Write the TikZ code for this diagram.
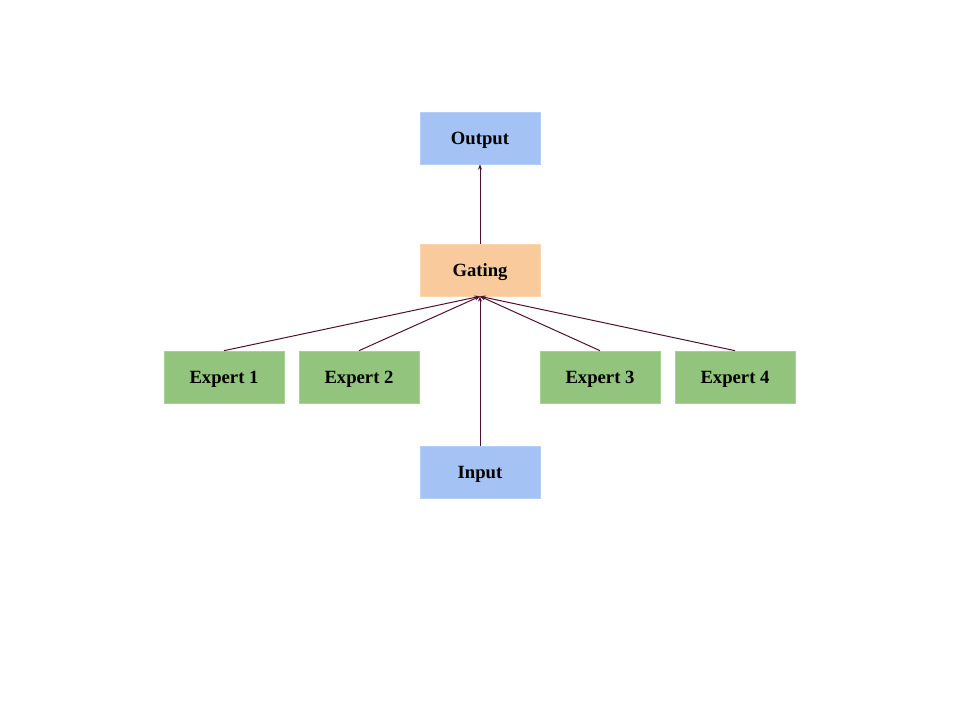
\documentclass[tikz,border=0pt]{standalone}
\usepackage{fontspec}
\setmainfont{Liberation Serif}
\usetikzlibrary{arrows.meta}
\definecolor{bluebox}{HTML}{A4C2F4}
\definecolor{orangebox}{HTML}{F9CB9C}
\definecolor{greenbox}{HTML}{93C47D}
\definecolor{arrowcol}{HTML}{4C1130}
\tikzset{
  box/.style={minimum width=90pt, minimum height=39pt, inner sep=0pt, text height=13pt, text depth=3pt, draw=#1!80!white, line width=0.5pt, fill=#1, font=\bfseries\fontsize{14}{16}\selectfont},
  conn/.style={draw=arrowcol, line width=0.75pt, -{Stealth[length=4pt,width=3pt]}}
}
\begin{document}
\begin{tikzpicture}[x=0.75pt,y=-0.75pt]
\useasboundingbox (0,0) rectangle (960,720);
\node[box=bluebox] (out) at (480,138) {Output};
\node[box=orangebox] (gate) at (480,270) {Gating};
\node[box=greenbox] (e1) at (224,377) {Expert 1};
\node[box=greenbox] (e2) at (359,377) {Expert 2};
\node[box=greenbox] (e3) at (600,377) {Expert 3};
\node[box=greenbox] (e4) at (735,377) {Expert 4};
\node[box=bluebox] (in) at (480,472) {Input};
\draw[conn] (gate.north) -- (out.south);
\draw[conn] (e1.north) -- (gate.south);
\draw[conn] (e2.north) -- (gate.south);
\draw[conn] (e3.north) -- (gate.south);
\draw[conn] (e4.north) -- (gate.south);
\draw[conn] (in.north) -- (gate.south);
\end{tikzpicture}
\end{document}
